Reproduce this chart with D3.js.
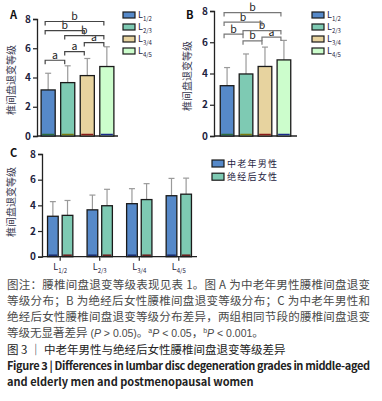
<!DOCTYPE html>
<html>
<head>
<meta charset="utf-8">
<script src="https://cdn.jsdelivr.net/npm/d3@7"></script>
<style>
  body { margin: 0; background: #fff; }
  svg { display: block; }
  text { font-family: "Noto Sans CJK SC", "Noto Sans", sans-serif; }
</style>
</head>
<body>
<div id="chart"></div>
<script>
// segments (subscript part of the L labels)
const levels = ["1/2", "2/3", "3/4", "4/5"];
// middle-aged and elderly men: mean and SD
const menMean = [3.15, 3.65, 4.13, 4.75];
const menSD = [1.14, 1.15, 1.17, 1.35];
// postmenopausal women: mean and SD
const womenMean = [3.22, 3.97, 4.45, 4.87];
const womenSD = [1.16, 1.28, 1.24, 1.25];
// significance brackets: [from, to, label, height in grade units]
const bracketsA = [[0, 1, "a", 5.18], [1, 2, "a", 5.77], [2, 3, "a", 6.39], [1, 3, "b", 6.87], [0, 2, "b", 7.21], [0, 3, "b", 7.83]];
const bracketsB = [[1, 2, "b", 6.09], [2, 3, "a", 6.33], [0, 1, "b", 6.52], [1, 3, "b", 6.75], [0, 2, "b", 7.29], [0, 3, "b", 7.9]];
const yTicks = [0, 2, 4, 6, 8];
const groups = ["中老年男性", "绝经后女性"];
const yLabel = "椎间盘退变等级";

const segColors = ["#5689c9", "#7ecab3", "#e7d39f", "#ccfdcc"];
const bottomColors = ["#2e6b3a", "#7a7a10", "#8a1a1a", "#1a2a8a"];
const groupColors = ["#5689c9", "#7ecab3"];
const inkColor = "#1e2240";
const errColor = "#9a9a9a";
const latin = "Liberation Sans, Arial, sans-serif";

const svg = d3.select("#chart").append("svg")
  .attr("width", 382)
  .attr("height", 401);

function addL(sel, sub, big, small) {
  sel.append("tspan").attr("font-size", big).text("L");
  sel.append("tspan").attr("font-size", small).attr("dy", 3).text(sub);
}

function yAxisOf(g, y, x0) {
  let ax = g.append("g")
    .attr("transform", `translate(${x0},0)`)
    .call(d3.axisLeft(y).tickValues(yTicks).tickSize(4).tickFormat(d3.format("d")));
  ax.select(".domain").attr("stroke", "#222").attr("stroke-width", 1.3);
  ax.selectAll(".tick line").attr("stroke", "#222").attr("stroke-width", 1.2);
  ax.selectAll(".tick text")
    .attr("font-family", latin)
    .attr("font-weight", "bold")
    .attr("font-size", 10)
    .attr("fill", inkColor)
    .attr("x", -6);
  return ax;
}

function drawPanel(opt) {
  let g = svg.append("g");
  let y = d3.scaleLinear().domain([0, 8]).range([opt.y0, opt.y8]);
  let x = d3.scaleBand().domain(d3.range(4)).range(opt.xr)
    .paddingInner(0.28).paddingOuter(opt.po);

  // x axis baseline
  g.append("line")
    .attr("x1", opt.xr[0]).attr("x2", opt.xr[1])
    .attr("y1", opt.y0).attr("y2", opt.y0)
    .attr("stroke", "#222").attr("stroke-width", 1.3);

  yAxisOf(g, y, opt.xr[0]);

  // error bars
  let eb = g.selectAll(".err").data(opt.mean).enter().append("g");
  eb.append("line")
    .attr("x1", (d, i) => x(i) + x.bandwidth() / 2)
    .attr("x2", (d, i) => x(i) + x.bandwidth() / 2)
    .attr("y1", d => y(d))
    .attr("y2", (d, i) => y(d + opt.sd[i]))
    .attr("stroke", errColor).attr("stroke-width", 1.2);
  eb.append("line")
    .attr("x1", (d, i) => x(i) + x.bandwidth() / 2 - 3)
    .attr("x2", (d, i) => x(i) + x.bandwidth() / 2 + 3)
    .attr("y1", (d, i) => y(d + opt.sd[i]))
    .attr("y2", (d, i) => y(d + opt.sd[i]))
    .attr("stroke", errColor).attr("stroke-width", 1.2);

  // bars
  g.selectAll(".bar").data(opt.mean).enter().append("rect")
    .attr("x", (d, i) => x(i))
    .attr("y", d => y(d))
    .attr("width", x.bandwidth())
    .attr("height", d => y(0) - y(d))
    .attr("fill", (d, i) => segColors[i])
    .attr("stroke", "#1a1a1a").attr("stroke-width", 1.3);
  g.selectAll(".bot").data(opt.mean).enter().append("line")
    .attr("x1", (d, i) => x(i) + 1)
    .attr("x2", (d, i) => x(i) + x.bandwidth() - 1)
    .attr("y1", opt.y0 - 1.5).attr("y2", opt.y0 - 1.5)
    .attr("stroke", (d, i) => bottomColors[i]).attr("stroke-width", 1.5);

  // significance brackets
  let cx = i => x(i) + x.bandwidth() / 2 - 3;
  let br = g.selectAll(".br").data(opt.brackets).enter().append("g");
  br.append("path")
    .attr("d", d => `M${cx(d[0])},${y(d[3]) + 4}V${y(d[3])}H${cx(d[1])}V${y(d[3]) + 4}`)
    .attr("fill", "none").attr("stroke", opt.brColor).attr("stroke-width", 1.2);
  br.append("text")
    .attr("x", d => (cx(d[0]) + cx(d[1])) / 2)
    .attr("y", d => y(d[3]) - 1.5)
    .attr("text-anchor", "middle")
    .attr("font-family", latin)
    .attr("font-size", 10.5)
    .attr("fill", "#222")
    .text(d => d[2]);

  // panel letter
  g.append("text")
    .attr("x", opt.letterX).attr("y", opt.letterY)
    .attr("font-family", latin)
    .attr("font-weight", "bold").attr("font-size", 11)
    .attr("fill", "#111")
    .text(opt.letter);

  // y label
  g.append("text")
    .attr("transform", `translate(${opt.labelX},${opt.labelY}) rotate(-90)`)
    .attr("text-anchor", "middle")
    .attr("font-size", 10)
    .attr("fill", "#3a3a50")
    .text(yLabel);

  // legend
  let lg = g.selectAll(".lg").data(levels).enter().append("g")
    .attr("transform", (d, i) => `translate(${opt.legX},${opt.legY + i * 12})`);
  lg.append("rect")
    .attr("x", 0).attr("y", -3).attr("width", 12).attr("height", 6)
    .attr("fill", (d, i) => segColors[i])
    .attr("stroke", "#1a1a1a").attr("stroke-width", 1.2);
  lg.append("text")
    .attr("x", 15).attr("y", 3)
    .attr("font-family", latin)
    .attr("fill", inkColor)
    .each(function(d) { addL(d3.select(this), d, 9, 6); });
}

drawPanel({
  mean: menMean, sd: menSD, brackets: bracketsA, brColor: "#444",
  xr: [37, 118], po: 0.21, y0: 136, y8: 19,
  letter: "A", letterX: 10, letterY: 19,
  labelX: 15, labelY: 80,
  legX: 123, legY: 15
});

drawPanel({
  mean: womenMean, sd: womenSD, brackets: bracketsB, brColor: "#777",
  xr: [214, 297], po: 0.33, y0: 136, y8: 11,
  letter: "B", letterX: 186, letterY: 19,
  labelX: 191, labelY: 76,
  legX: 312, legY: 15
});

// panel C: grouped bars
(function() {
  let g = svg.append("g");
  let y0 = 256.7, y8 = 154;
  let y = d3.scaleLinear().domain([0, 8]).range([y0, y8]);
  let x0 = d3.scaleBand().domain(d3.range(4)).range([42, 197])
    .paddingInner(0.36).paddingOuter(0.14);
  let x1 = d3.scaleBand().domain([0, 1]).range([0, x0.bandwidth()]).paddingInner(0.27);

  let data = levels.map((lv, i) => ({
    lv: lv,
    vals: [{ k: 0, m: menMean[i], s: menSD[i] }, { k: 1, m: womenMean[i], s: womenSD[i] }]
  }));

  g.append("line")
    .attr("x1", 42).attr("x2", 197).attr("y1", y0).attr("y2", y0)
    .attr("stroke", "#222").attr("stroke-width", 1.3);
  yAxisOf(g, y, 42);

  // x ticks
  let xt = g.selectAll(".xt").data(data).enter().append("g")
    .attr("transform", (d, i) => `translate(${x0(i) + x0.bandwidth() / 2},${y0})`);
  xt.append("line").attr("y2", 4).attr("stroke", "#222").attr("stroke-width", 1.2);
  xt.append("text")
    .attr("y", 13).attr("text-anchor", "middle")
    .attr("font-family", latin)
    .attr("fill", inkColor)
    .each(function(d) { addL(d3.select(this), d.lv, 9, 6); });

  let grp = g.selectAll(".grp").data(data).enter().append("g")
    .attr("transform", (d, i) => `translate(${x0(i)},0)`);
  let cell = grp.selectAll("g").data(d => d.vals).enter().append("g");
  cell.append("line")
    .attr("x1", d => x1(d.k) + x1.bandwidth() / 2)
    .attr("x2", d => x1(d.k) + x1.bandwidth() / 2)
    .attr("y1", d => y(d.m)).attr("y2", d => y(d.m + d.s))
    .attr("stroke", errColor).attr("stroke-width", 1.2);
  cell.append("line")
    .attr("x1", d => x1(d.k) + x1.bandwidth() / 2 - 3)
    .attr("x2", d => x1(d.k) + x1.bandwidth() / 2 + 3)
    .attr("y1", d => y(d.m + d.s)).attr("y2", d => y(d.m + d.s))
    .attr("stroke", errColor).attr("stroke-width", 1.2);
  cell.append("rect")
    .attr("x", d => x1(d.k))
    .attr("y", d => y(d.m))
    .attr("width", x1.bandwidth())
    .attr("height", d => y(0) - y(d.m))
    .attr("fill", d => groupColors[d.k])
    .attr("stroke", "#1a1a1a").attr("stroke-width", 1.3);
  cell.append("line")
    .attr("x1", d => x1(d.k) + 1).attr("x2", d => x1(d.k) + x1.bandwidth() - 1)
    .attr("y1", y0 - 1.5).attr("y2", y0 - 1.5)
    .attr("stroke", d => d.k ? "#6a1a1a" : "#1a2a6a").attr("stroke-width", 1.5);

  g.append("text")
    .attr("x", 10).attr("y", 157)
    .attr("font-family", latin)
    .attr("font-weight", "bold").attr("font-size", 11).attr("fill", "#111")
    .text("C");
  g.append("text")
    .attr("transform", "translate(15,202) rotate(-90)")
    .attr("text-anchor", "middle")
    .attr("font-size", 10).attr("fill", "#3a3a50")
    .text(yLabel);

  let lg = g.selectAll(".lg").data(groups).enter().append("g")
    .attr("transform", (d, i) => `translate(212,${163.5 + i * 13.2})`);
  lg.append("rect")
    .attr("x", 0).attr("y", -3.5).attr("width", 12).attr("height", 7)
    .attr("fill", (d, i) => groupColors[i])
    .attr("stroke", "#1a1a1a").attr("stroke-width", 1.2);
  lg.append("text")
    .attr("x", 15).attr("y", 3.2)
    .attr("font-size", 9).attr("fill", inkColor)
    .attr("textLength", 50).attr("lengthAdjust", "spacing")
    .text(d => d);
})();

// caption
const cap = svg.append("g").attr("fill", "#4a4a4a").attr("font-size", 11.5);
const noteLines = [
  "图注：腰椎间盘退变等级表现见表 1。图 A 为中老年男性腰椎间盘退变",
  "等级分布；B 为绝经后女性腰椎间盘退变等级分布；C 为中老年男性和",
  "绝经后女性腰椎间盘退变等级分布差异，两组相同节段的腰椎间盘退变"
];
noteLines.forEach((t, i) => {
  cap.append("text")
    .attr("x", 7).attr("y", 289 + i * 16)
    .attr("textLength", 363).attr("lengthAdjust", "spacing")
    .text(t);
});
let l4 = cap.append("text").attr("x", 7).attr("y", 337);
function lat(sel, t, it) {
  return sel.append("tspan").attr("font-family", latin).attr("font-size", 10.5)
    .attr("font-style", it ? "italic" : null).text(t);
}
l4.append("tspan").text("等级无显著差异");
lat(l4, " (");
lat(l4, "P", true);
lat(l4, " > 0.05)");
l4.append("tspan").text("。");
lat(l4, "a").attr("font-size", 7).attr("dy", -4);
lat(l4, "P", true).attr("dy", 4);
lat(l4, " < 0.05");
l4.append("tspan").text("，");
lat(l4, "b").attr("font-size", 7).attr("dy", -4);
lat(l4, "P", true).attr("dy", 4);
lat(l4, " < 0.001");
l4.append("tspan").text("。");

svg.append("text")
  .attr("x", 7).attr("y", 354)
  .attr("font-size", 11.5).attr("fill", "#222")
  .text("图 3 │ 中老年男性与绝经后女性腰椎间盘退变等级差异");

svg.append("text")
  .attr("x", 7).attr("y", 370)
  .attr("font-family", "Lato, sans-serif").attr("font-weight", "bold")
  .attr("font-size", 11).attr("fill", "#222")
  .attr("textLength", 363).attr("lengthAdjust", "spacing")
  .text("Figure 3  |  Differences in lumbar disc degeneration grades in middle-aged");
svg.append("text")
  .attr("x", 7).attr("y", 386)
  .attr("font-family", "Lato, sans-serif").attr("font-weight", "bold")
  .attr("font-size", 11).attr("fill", "#222")
  .text("and elderly men and postmenopausal women");
</script>
</body>
</html>
